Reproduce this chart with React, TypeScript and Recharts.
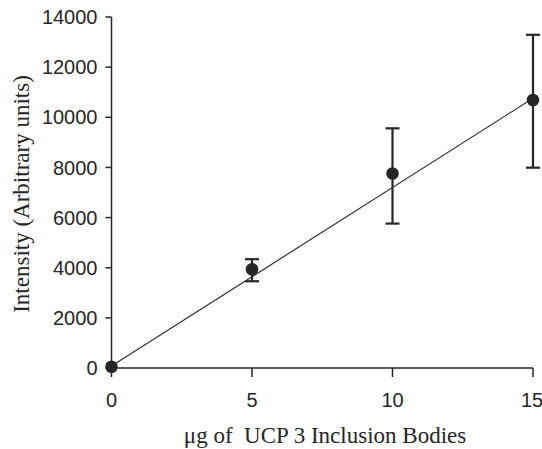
import React from 'react';
import { ScatterChart, Scatter, XAxis, YAxis, ErrorBar, Label } from 'recharts';

const doseX = [0, 5, 10, 15];
const intensity = [50, 3940, 7760, 10690];
const errLow = [0, 480, 2000, 2700];
const errHigh = [0, 400, 1800, 2600];

const fitX = [0, 15];
const fitY = [80, 10760];

const xTicks = [0, 5, 10, 15];
const yTicks = [0, 2000, 4000, 6000, 8000, 10000, 12000, 14000];

const xTitle = 'μg of  UCP 3 Inclusion Bodies';
const yTitle = 'Intensity (Arbitrary units)';

const withErr = doseX
  .map((x, i) => ({ x, y: intensity[i], err: [errLow[i], errHigh[i]] }))
  .filter((d) => d.err[0] > 0 || d.err[1] > 0);
const noErr = doseX
  .map((x, i) => ({ x, y: intensity[i], err: [errLow[i], errHigh[i]] }))
  .filter((d) => !(d.err[0] > 0 || d.err[1] > 0));
const fitData = fitX.map((x, i) => ({ x, y: fitY[i] }));

const INK = '#262626';
const tickStyle = { fontFamily: '"Liberation Sans", Arial, sans-serif', fontSize: 20, fill: INK };
const serif = '"Liberation Serif", "Times New Roman", serif';

const Dot = (props: any) => <circle cx={props.cx} cy={props.cy} r={6.3} fill={INK} />;

export default function App() {
  return (
    <div style={{ position: 'absolute', left: 0, top: 0 }}>
      <ScatterChart width={542} height={449} margin={{ top: 17, right: 9, bottom: 0, left: 0 }}>
        <XAxis
          type="number"
          dataKey="x"
          domain={[0, 15]}
          ticks={xTicks}
          height={81}
          tickSize={9}
          tickMargin={16}
          tick={tickStyle}
          axisLine={{ stroke: INK, strokeWidth: 1.5 }}
          tickLine={{ stroke: INK, strokeWidth: 1.5 }}
        >
          <Label
            content={() => (
              <text x={325} y={443} textAnchor="middle" fontFamily={serif} fontSize={23} fill={INK} style={{ whiteSpace: 'pre' }}>
                {xTitle}
              </text>
            )}
          />
        </XAxis>
        <YAxis
          type="number"
          dataKey="y"
          domain={[0, 14000]}
          ticks={yTicks}
          width={111.5}
          tickSize={6}
          tickMargin={8}
          tick={tickStyle}
          axisLine={{ stroke: INK, strokeWidth: 1.5 }}
          tickLine={{ stroke: INK, strokeWidth: 1.5 }}
        >
          <Label
            content={() => (
              <text
                x={29}
                y={194}
                transform="rotate(-90 29 194)"
                textAnchor="middle"
                fontFamily={serif}
                fontSize={23}
                fill={INK}
              >
                {yTitle}
              </text>
            )}
          />
        </YAxis>
        <Scatter
          data={fitData}
          line={{ stroke: '#333', strokeWidth: 1.2 }}
          shape={() => <g />}
          isAnimationActive={false}
        />
        <Scatter data={withErr} shape={Dot} isAnimationActive={false}>
          <ErrorBar dataKey="err" direction="y" width={7} stroke={INK} strokeWidth={2.2} isAnimationActive={false} />
        </Scatter>
        <Scatter data={noErr} shape={Dot} isAnimationActive={false} />
      </ScatterChart>
    </div>
  );
}
